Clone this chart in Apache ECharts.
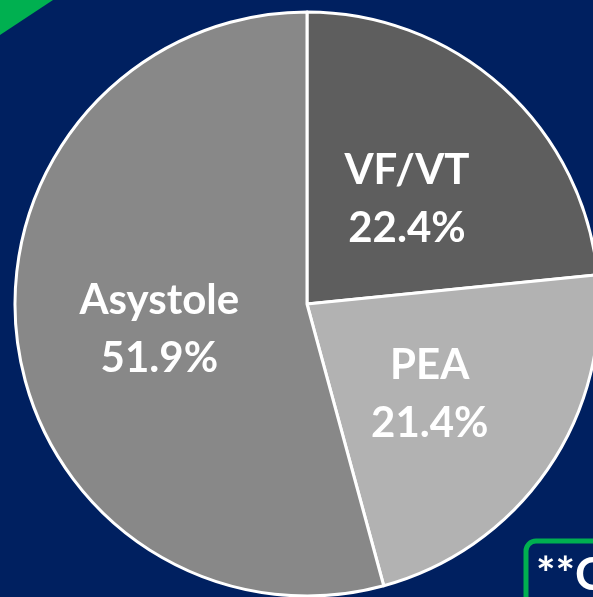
<!DOCTYPE html>
<html>
<head>
<meta charset="utf-8">
<script src="https://cdn.jsdelivr.net/npm/echarts@6/dist/echarts.min.js"></script>
<style>
  html, body { margin: 0; padding: 0; background: #002060; }
  #main { width: 593px; height: 597px; }
</style>
</head>
<body>
<div id="main"></div>
<script>
// rhythm categories and their shares (%)
const rhythms = ['VF/VT', 'PEA', 'Asystole'];
const shares = [22.4, 21.4, 51.9];
const sliceColors = ['#5e5e5e', '#b2b2b2', '#888888'];

const chart = echarts.init(document.getElementById('main'), null, { renderer: 'canvas' });

const option = {
  backgroundColor: '#002060',
  animation: false,
  graphic: [
    // green corner triangle
    {
      type: 'polygon',
      shape: { points: [[0, 0], [53, 0], [0, 35]] },
      style: { fill: '#00b050' }
    },
    // green note box, cut off by the edge
    {
      type: 'rect',
      shape: { x: 526, y: 541, width: 120, height: 80, r: 10 },
      style: { fill: 'transparent', stroke: '#00b050', lineWidth: 5 }
    },
    {
      type: 'text',
      left: 536,
      top: 552,
      style: { text: '**C', fill: '#ffffff', font: 'bold 46px Lato' }
    }
  ],
  series: [
    {
      type: 'pie',
      center: [307, 304],
      radius: [0, 292],
      startAngle: 90,
      clockwise: true,
      itemStyle: { borderColor: '#ffffff', borderWidth: 3 },
      label: {
        show: true,
        position: 'inside',
        formatter: p => p.name + '\n' + p.value.toFixed(1) + '%',
        color: '#ffffff',
        fontFamily: 'Lato',
        fontWeight: 'bold',
        fontSize: 42,
        lineHeight: 58,
        offset: [0, 6]
      },
      labelLine: { show: false },
      emphasis: { disabled: true },
      data: rhythms.map((name, i) => ({
        name: name,
        value: shares[i],
        itemStyle: { color: sliceColors[i] }
      }))
    }
  ]
};

chart.setOption(option);
</script>
</body>
</html>
